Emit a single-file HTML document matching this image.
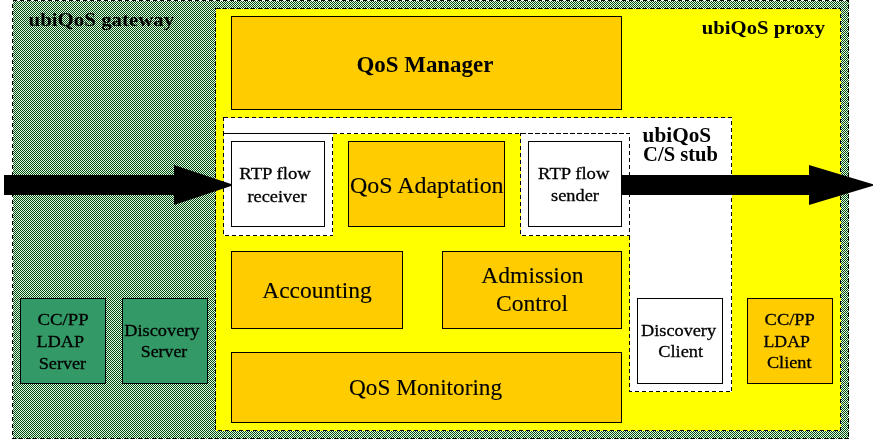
<!DOCTYPE html>
<html lang="en">
<head>
<meta charset="utf-8">
<title>ubiQoS gateway architecture</title>
<style>
  html, body { margin: 0; padding: 0; background: #ffffff; }
  body { width: 876px; height: 439px; overflow: hidden; }
  svg { display: block; will-change: transform; }
  .r { font-family: "Liberation Serif", "Times New Roman", serif; font-weight: normal; fill: #000; stroke: #000; stroke-width: 0.3px; }
  .b { font-family: "Liberation Serif", "Times New Roman", serif; font-weight: bold; fill: #000; }
  .r23 { stroke-width: 0.12px; }
  .box { stroke: #000; stroke-width: 1; shape-rendering: crispEdges; }
  .dash { stroke: #000; stroke-width: 1; stroke-dasharray: 4 3; shape-rendering: crispEdges; }
</style>
</head>
<body>
<svg width="876" height="439" viewBox="0 0 876 439">
  <defs>
    <pattern id="chk" x="0" y="0" width="2" height="2" patternUnits="userSpaceOnUse">
      <rect x="0" y="0" width="2" height="2" fill="#ddfde2" shape-rendering="crispEdges"/>
      <rect x="0" y="0" width="1" height="1" fill="#084a12" shape-rendering="crispEdges"/>
      <rect x="1" y="1" width="1" height="1" fill="#084a12" shape-rendering="crispEdges"/>
    </pattern>
  </defs>

  <rect x="0" y="0" width="876" height="439" fill="#ffffff"/>

  <!-- ubiQoS gateway -->
  <rect x="12.5" y="0.5" width="836" height="438" fill="url(#chk)" class="dash"/>

  <!-- ubiQoS proxy -->
  <rect x="215.5" y="8.5" width="625" height="422" fill="#ffff00" class="dash"/>

  <!-- QoS Manager -->
  <rect x="231.5" y="16.5" width="390" height="93" fill="#ffcc00" class="box"/>

  <!-- C/S stub -->
  <polygon points="223.5,117.5 731.5,117.5 731.5,391.5 629.5,391.5 629.5,133.5 223.5,133.5" fill="#ffffff" class="dash"/>
  <rect x="223.5" y="133.5" width="109" height="102" fill="#ffffff" class="dash"/>
  <rect x="520.5" y="133.5" width="109" height="102" fill="#ffffff" class="dash"/>

  <!-- inner boxes -->
  <rect x="231.5" y="141.5" width="93" height="85" fill="#ffffff" class="box"/>
  <rect x="348.5" y="141.5" width="156" height="85" fill="#ffcc00" class="box"/>
  <rect x="528.5" y="141.5" width="93" height="85" fill="#ffffff" class="box"/>

  <rect x="231.5" y="251.5" width="171" height="77" fill="#ffcc00" class="box"/>
  <rect x="442.5" y="251.5" width="179" height="77" fill="#ffcc00" class="box"/>
  <rect x="231.5" y="352.5" width="390" height="70" fill="#ffcc00" class="box"/>

  <rect x="20.5" y="298.5" width="85" height="85" fill="#339966" class="box"/>
  <rect x="122.5" y="298.5" width="85" height="85" fill="#339966" class="box"/>
  <rect x="637.5" y="298.5" width="85" height="85" fill="#ffffff" class="box"/>
  <rect x="747.5" y="298.5" width="85" height="85" fill="#ffcc00" class="box"/>

  <!-- arrows -->
  <polygon points="4,175 174,175 174,165 231,184 231,186 174,205 174,195 4,195" fill="#000"/>
  <polygon points="622,175 809,175 809,165 873,184.3 873,185.7 809,205 809,195 622,195" fill="#000"/>

  <!-- labels -->
  <text class="b" x="28.6" y="25.5" textLength="145.6" font-size="19.5" lengthAdjust="spacingAndGlyphs">ubiQoS gateway</text>
  <text class="b" x="701.8" y="33.7" textLength="123.2" font-size="19.5" lengthAdjust="spacingAndGlyphs">ubiQoS proxy</text>
  <text class="b" x="356.5" y="72" textLength="136.9" font-size="23" lengthAdjust="spacingAndGlyphs">QoS Manager</text>
  <text class="b" x="642.6" y="141.5" textLength="68.5" font-size="20" lengthAdjust="spacingAndGlyphs">ubiQoS</text>
  <text class="b" x="643.1" y="161" textLength="74.9" font-size="20" lengthAdjust="spacingAndGlyphs">C/S stub</text>

  <text class="r" x="239.3" y="179.2" textLength="71.6" font-size="17" lengthAdjust="spacingAndGlyphs">RTP flow</text>
  <text class="r" x="247.5" y="201.5" textLength="59.0" font-size="17" lengthAdjust="spacingAndGlyphs">receiver</text>
  <text class="r r23" x="350" y="192.5" textLength="153.6" font-size="23" lengthAdjust="spacingAndGlyphs">QoS Adaptation</text>
  <text class="r" x="538.1" y="179.2" textLength="71.3" font-size="17" lengthAdjust="spacingAndGlyphs">RTP flow</text>
  <text class="r" x="551.1" y="201" textLength="47.8" font-size="17" lengthAdjust="spacingAndGlyphs">sender</text>

  <text class="r r23" x="262.2" y="298" textLength="109.6" font-size="23" lengthAdjust="spacingAndGlyphs">Accounting</text>
  <text class="r r23" x="481.3" y="283" textLength="102.2" font-size="23" lengthAdjust="spacingAndGlyphs">Admission</text>
  <text class="r r23" x="496.1" y="311" textLength="72.0" font-size="23" lengthAdjust="spacingAndGlyphs">Control</text>
  <text class="r r23" x="349.1" y="395" textLength="153.0" font-size="23" lengthAdjust="spacingAndGlyphs">QoS Monitoring</text>

  <text class="r" x="37.6" y="324.5" textLength="51.0" font-size="17" lengthAdjust="spacingAndGlyphs">CC/PP</text>
  <text class="r" x="36.6" y="346.5" textLength="47.4" font-size="17" lengthAdjust="spacingAndGlyphs">LDAP</text>
  <text class="r" x="38.7" y="368.5" textLength="47.5" font-size="17" lengthAdjust="spacingAndGlyphs">Server</text>
  <text class="r" x="124.3" y="336" textLength="75.2" font-size="17" lengthAdjust="spacingAndGlyphs">Discovery</text>
  <text class="r" x="140.8" y="357" textLength="46.5" font-size="17" lengthAdjust="spacingAndGlyphs">Server</text>

  <text class="r" x="641.0" y="336" textLength="75.1" font-size="17" lengthAdjust="spacingAndGlyphs">Discovery</text>
  <text class="r" x="658.3" y="357" textLength="44.8" font-size="17" lengthAdjust="spacingAndGlyphs">Client</text>
  <text class="r" x="764.6" y="324.5" textLength="50.2" font-size="17" lengthAdjust="spacingAndGlyphs">CC/PP</text>
  <text class="r" x="763.5" y="346.5" textLength="46.3" font-size="17" lengthAdjust="spacingAndGlyphs">LDAP</text>
  <text class="r" x="766.9" y="367.5" textLength="44.6" font-size="17" lengthAdjust="spacingAndGlyphs">Client</text>
</svg>
</body>
</html>
